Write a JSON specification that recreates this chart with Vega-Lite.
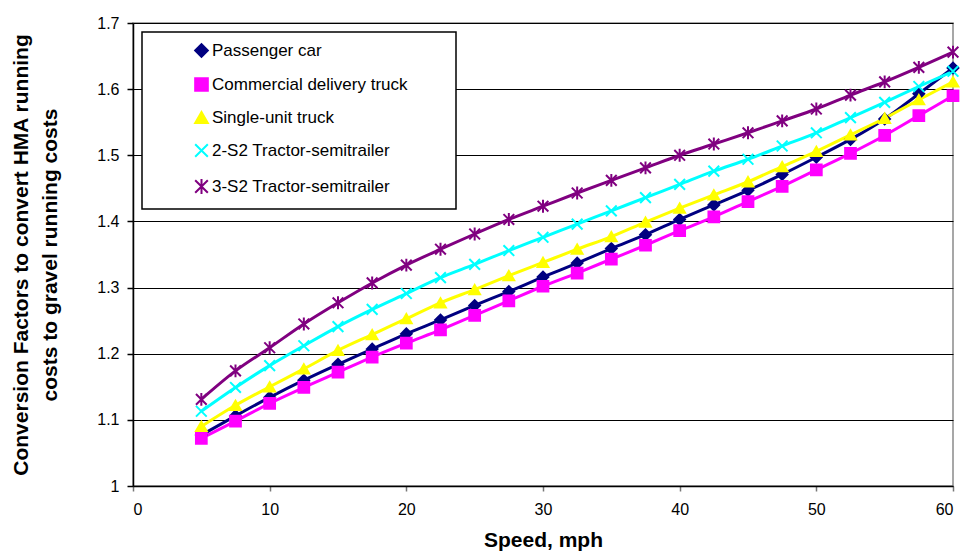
{
  "$schema": "https://vega.github.io/schema/vega-lite/v6.json",
  "width": 820,
  "height": 463,
  "autosize": {"type": "none"},
  "padding": {"left": 133, "top": 23, "right": 12, "bottom": 65},
  "background": "white",
  "config": {
    "font": "Liberation Sans",
    "view": {"stroke": "#8a8a8a", "strokeWidth": 1.5},
    "legend": {
      "orient": "none", "legendX": 9, "legendY": 9,
      "fillColor": "#ffffff", "strokeColor": "#000000", "strokeWidth": 1.5,
      "padding": 10, "symbolOffset": 41, "symbolSize": 160, "symbolStrokeWidth": 2,
      "labelFontSize": 17, "labelColor": "#000000", "labelOffset": 2,
      "rowPadding": 13, "labelLimit": 400,
      "titleOrient": "right", "titleAngle": 0, "titleFontSize": 17, "titlePadding": 38,
      "titleLimit": 400
    }
  },
  "data": {"values": [
    {"vehicle": "Passenger car", "speed": 5, "factor": 1.077},
    {"vehicle": "Passenger car", "speed": 7.5, "factor": 1.106},
    {"vehicle": "Passenger car", "speed": 10, "factor": 1.134},
    {"vehicle": "Passenger car", "speed": 12.5, "factor": 1.16},
    {"vehicle": "Passenger car", "speed": 15, "factor": 1.184},
    {"vehicle": "Passenger car", "speed": 17.5, "factor": 1.207},
    {"vehicle": "Passenger car", "speed": 20, "factor": 1.23},
    {"vehicle": "Passenger car", "speed": 22.5, "factor": 1.251},
    {"vehicle": "Passenger car", "speed": 25, "factor": 1.273},
    {"vehicle": "Passenger car", "speed": 27.5, "factor": 1.294},
    {"vehicle": "Passenger car", "speed": 30, "factor": 1.316},
    {"vehicle": "Passenger car", "speed": 32.5, "factor": 1.337},
    {"vehicle": "Passenger car", "speed": 35, "factor": 1.359},
    {"vehicle": "Passenger car", "speed": 37.5, "factor": 1.38},
    {"vehicle": "Passenger car", "speed": 40, "factor": 1.403},
    {"vehicle": "Passenger car", "speed": 42.5, "factor": 1.425},
    {"vehicle": "Passenger car", "speed": 45, "factor": 1.447},
    {"vehicle": "Passenger car", "speed": 47.5, "factor": 1.471},
    {"vehicle": "Passenger car", "speed": 50, "factor": 1.497},
    {"vehicle": "Passenger car", "speed": 52.5, "factor": 1.524},
    {"vehicle": "Passenger car", "speed": 55, "factor": 1.555},
    {"vehicle": "Passenger car", "speed": 57.5, "factor": 1.593},
    {"vehicle": "Passenger car", "speed": 60, "factor": 1.632},
    {"vehicle": "Commercial delivery truck", "speed": 5, "factor": 1.072},
    {"vehicle": "Commercial delivery truck", "speed": 7.5, "factor": 1.098},
    {"vehicle": "Commercial delivery truck", "speed": 10, "factor": 1.125},
    {"vehicle": "Commercial delivery truck", "speed": 12.5, "factor": 1.149},
    {"vehicle": "Commercial delivery truck", "speed": 15, "factor": 1.172},
    {"vehicle": "Commercial delivery truck", "speed": 17.5, "factor": 1.195},
    {"vehicle": "Commercial delivery truck", "speed": 20, "factor": 1.216},
    {"vehicle": "Commercial delivery truck", "speed": 22.5, "factor": 1.236},
    {"vehicle": "Commercial delivery truck", "speed": 25, "factor": 1.258},
    {"vehicle": "Commercial delivery truck", "speed": 27.5, "factor": 1.28},
    {"vehicle": "Commercial delivery truck", "speed": 30, "factor": 1.302},
    {"vehicle": "Commercial delivery truck", "speed": 32.5, "factor": 1.322},
    {"vehicle": "Commercial delivery truck", "speed": 35, "factor": 1.343},
    {"vehicle": "Commercial delivery truck", "speed": 37.5, "factor": 1.364},
    {"vehicle": "Commercial delivery truck", "speed": 40, "factor": 1.386},
    {"vehicle": "Commercial delivery truck", "speed": 42.5, "factor": 1.407},
    {"vehicle": "Commercial delivery truck", "speed": 45, "factor": 1.43},
    {"vehicle": "Commercial delivery truck", "speed": 47.5, "factor": 1.453},
    {"vehicle": "Commercial delivery truck", "speed": 50, "factor": 1.478},
    {"vehicle": "Commercial delivery truck", "speed": 52.5, "factor": 1.503},
    {"vehicle": "Commercial delivery truck", "speed": 55, "factor": 1.53},
    {"vehicle": "Commercial delivery truck", "speed": 57.5, "factor": 1.56},
    {"vehicle": "Commercial delivery truck", "speed": 60, "factor": 1.59},
    {"vehicle": "Single-unit truck", "speed": 5, "factor": 1.09},
    {"vehicle": "Single-unit truck", "speed": 7.5, "factor": 1.122},
    {"vehicle": "Single-unit truck", "speed": 10, "factor": 1.15},
    {"vehicle": "Single-unit truck", "speed": 12.5, "factor": 1.177},
    {"vehicle": "Single-unit truck", "speed": 15, "factor": 1.205},
    {"vehicle": "Single-unit truck", "speed": 17.5, "factor": 1.229},
    {"vehicle": "Single-unit truck", "speed": 20, "factor": 1.253},
    {"vehicle": "Single-unit truck", "speed": 22.5, "factor": 1.277},
    {"vehicle": "Single-unit truck", "speed": 25, "factor": 1.297},
    {"vehicle": "Single-unit truck", "speed": 27.5, "factor": 1.318},
    {"vehicle": "Single-unit truck", "speed": 30, "factor": 1.338},
    {"vehicle": "Single-unit truck", "speed": 32.5, "factor": 1.358},
    {"vehicle": "Single-unit truck", "speed": 35, "factor": 1.377},
    {"vehicle": "Single-unit truck", "speed": 37.5, "factor": 1.399},
    {"vehicle": "Single-unit truck", "speed": 40, "factor": 1.42},
    {"vehicle": "Single-unit truck", "speed": 42.5, "factor": 1.44},
    {"vehicle": "Single-unit truck", "speed": 45, "factor": 1.46},
    {"vehicle": "Single-unit truck", "speed": 47.5, "factor": 1.483},
    {"vehicle": "Single-unit truck", "speed": 50, "factor": 1.506},
    {"vehicle": "Single-unit truck", "speed": 52.5, "factor": 1.531},
    {"vehicle": "Single-unit truck", "speed": 55, "factor": 1.556},
    {"vehicle": "Single-unit truck", "speed": 57.5, "factor": 1.584},
    {"vehicle": "Single-unit truck", "speed": 60, "factor": 1.611},
    {"vehicle": "2-S2 Tractor-semitrailer", "speed": 5, "factor": 1.113},
    {"vehicle": "2-S2 Tractor-semitrailer", "speed": 7.5, "factor": 1.149},
    {"vehicle": "2-S2 Tractor-semitrailer", "speed": 10, "factor": 1.182},
    {"vehicle": "2-S2 Tractor-semitrailer", "speed": 12.5, "factor": 1.212},
    {"vehicle": "2-S2 Tractor-semitrailer", "speed": 15, "factor": 1.241},
    {"vehicle": "2-S2 Tractor-semitrailer", "speed": 17.5, "factor": 1.267},
    {"vehicle": "2-S2 Tractor-semitrailer", "speed": 20, "factor": 1.291},
    {"vehicle": "2-S2 Tractor-semitrailer", "speed": 22.5, "factor": 1.315},
    {"vehicle": "2-S2 Tractor-semitrailer", "speed": 25, "factor": 1.335},
    {"vehicle": "2-S2 Tractor-semitrailer", "speed": 27.5, "factor": 1.356},
    {"vehicle": "2-S2 Tractor-semitrailer", "speed": 30, "factor": 1.376},
    {"vehicle": "2-S2 Tractor-semitrailer", "speed": 32.5, "factor": 1.396},
    {"vehicle": "2-S2 Tractor-semitrailer", "speed": 35, "factor": 1.416},
    {"vehicle": "2-S2 Tractor-semitrailer", "speed": 37.5, "factor": 1.436},
    {"vehicle": "2-S2 Tractor-semitrailer", "speed": 40, "factor": 1.456},
    {"vehicle": "2-S2 Tractor-semitrailer", "speed": 42.5, "factor": 1.476},
    {"vehicle": "2-S2 Tractor-semitrailer", "speed": 45, "factor": 1.494},
    {"vehicle": "2-S2 Tractor-semitrailer", "speed": 47.5, "factor": 1.514},
    {"vehicle": "2-S2 Tractor-semitrailer", "speed": 50, "factor": 1.534},
    {"vehicle": "2-S2 Tractor-semitrailer", "speed": 52.5, "factor": 1.557},
    {"vehicle": "2-S2 Tractor-semitrailer", "speed": 55, "factor": 1.58},
    {"vehicle": "2-S2 Tractor-semitrailer", "speed": 57.5, "factor": 1.604},
    {"vehicle": "2-S2 Tractor-semitrailer", "speed": 60, "factor": 1.627},
    {"vehicle": "3-S2 Tractor-semitrailer", "speed": 5, "factor": 1.131},
    {"vehicle": "3-S2 Tractor-semitrailer", "speed": 7.5, "factor": 1.174},
    {"vehicle": "3-S2 Tractor-semitrailer", "speed": 10, "factor": 1.209},
    {"vehicle": "3-S2 Tractor-semitrailer", "speed": 12.5, "factor": 1.245},
    {"vehicle": "3-S2 Tractor-semitrailer", "speed": 15, "factor": 1.277},
    {"vehicle": "3-S2 Tractor-semitrailer", "speed": 17.5, "factor": 1.307},
    {"vehicle": "3-S2 Tractor-semitrailer", "speed": 20, "factor": 1.334},
    {"vehicle": "3-S2 Tractor-semitrailer", "speed": 22.5, "factor": 1.358},
    {"vehicle": "3-S2 Tractor-semitrailer", "speed": 25, "factor": 1.381},
    {"vehicle": "3-S2 Tractor-semitrailer", "speed": 27.5, "factor": 1.403},
    {"vehicle": "3-S2 Tractor-semitrailer", "speed": 30, "factor": 1.423},
    {"vehicle": "3-S2 Tractor-semitrailer", "speed": 32.5, "factor": 1.443},
    {"vehicle": "3-S2 Tractor-semitrailer", "speed": 35, "factor": 1.462},
    {"vehicle": "3-S2 Tractor-semitrailer", "speed": 37.5, "factor": 1.481},
    {"vehicle": "3-S2 Tractor-semitrailer", "speed": 40, "factor": 1.5},
    {"vehicle": "3-S2 Tractor-semitrailer", "speed": 42.5, "factor": 1.517},
    {"vehicle": "3-S2 Tractor-semitrailer", "speed": 45, "factor": 1.534},
    {"vehicle": "3-S2 Tractor-semitrailer", "speed": 47.5, "factor": 1.552},
    {"vehicle": "3-S2 Tractor-semitrailer", "speed": 50, "factor": 1.57},
    {"vehicle": "3-S2 Tractor-semitrailer", "speed": 52.5, "factor": 1.591},
    {"vehicle": "3-S2 Tractor-semitrailer", "speed": 55, "factor": 1.611},
    {"vehicle": "3-S2 Tractor-semitrailer", "speed": 57.5, "factor": 1.633},
    {"vehicle": "3-S2 Tractor-semitrailer", "speed": 60, "factor": 1.656}
  ]},
  "encoding": {
    "x": {
      "field": "speed", "type": "quantitative",
      "scale": {"domain": [0, 60], "nice": false, "zero": false},
      "axis": {
        "title": "Speed, mph",
        "values": [0, 10, 20, 30, 40, 50, 60],
        "grid": false,
        "domainColor": "#000000", "domainWidth": 1.5,
        "tickColor": "#777777", "tickSize": 5, "tickWidth": 1.5,
        "labelFontSize": 16, "labelColor": "#000000", "labelPadding": 10,
        "titleFontSize": 21, "titleFontWeight": "bold", "titleColor": "#000000",
        "titlePadding": 12
      }
    },
    "y": {
      "field": "factor", "type": "quantitative",
      "scale": {"domain": [1, 1.7], "nice": false, "zero": false},
      "axis": {
        "title": ["Conversion Factors to convert HMA running", "costs to gravel running costs"],
        "values": [1, 1.1, 1.2, 1.3, 1.4, 1.5, 1.6, 1.7],
        "format": ".1~f",
        "grid": true, "gridColor": "#000000", "gridWidth": 1.2,
        "domainColor": "#000000", "domainWidth": 1.5,
        "tickColor": "#000000", "tickSize": 6, "tickWidth": 1.5,
        "labelFontSize": 16, "labelColor": "#000000", "labelPadding": 8,
        "titleFontSize": 21, "titleFontWeight": "bold", "titleColor": "#000000",
        "titleLineHeight": 29, "titlePadding": 36
      }
    },
    "color": {"field": "vehicle", "type": "nominal",
      "scale": {"domain": ["Passenger car", "Commercial delivery truck", "Single-unit truck", "2-S2 Tractor-semitrailer", "3-S2 Tractor-semitrailer"],
        "range": ["#000080", "#FF00FF", "#FFFF00", "#00FFFF", "#800080"]},
      "legend": {"title": "\u00a0"}}
  },
  "layer": [
    {
      "mark": {"type": "line", "interpolate": "monotone", "strokeWidth": 3}
    },
    {
      "mark": {"type": "point", "filled": true, "size": 115, "strokeWidth": 2, "opacity": 1},
      "encoding": {
        "stroke": {"field": "vehicle", "type": "nominal",
          "scale": {"domain": ["Passenger car", "Commercial delivery truck", "Single-unit truck", "2-S2 Tractor-semitrailer", "3-S2 Tractor-semitrailer"],
            "range": ["#000080", "#FF00FF", "#FFFF00", "#00FFFF", "#800080"]},
          "legend": {"title": "\u00a0"}},
        "shape": {"field": "vehicle", "type": "nominal",
          "scale": {"domain": ["Passenger car", "Commercial delivery truck", "Single-unit truck", "2-S2 Tractor-semitrailer", "3-S2 Tractor-semitrailer"],
            "range": ["diamond", "square", "triangle-up", "M-1,-1L1,1M-1,1L1,-1", "M-1,-1L1,1M-1,1L1,-1M0,-1.2L0,1.2"]},
          "legend": {"title": "\u00a0"}}
      }
    }
  ]
}
